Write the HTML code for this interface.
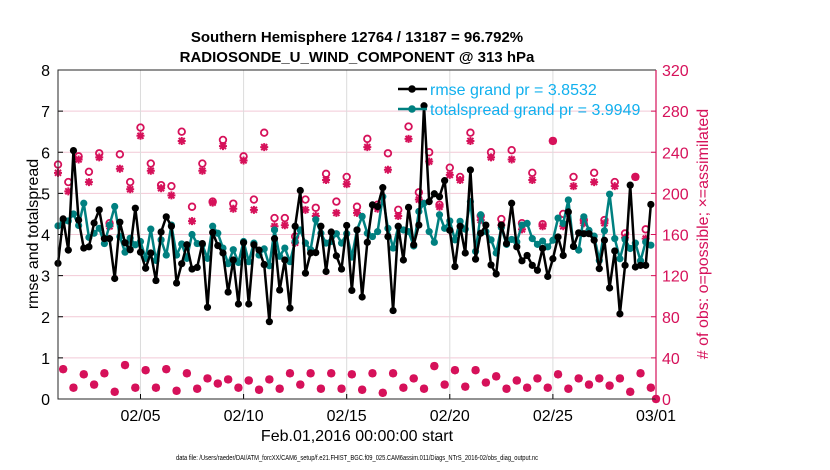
<!DOCTYPE html>
<html><head><meta charset="utf-8"><style>
body{margin:0;background:#fff;}
svg{display:block;font-family:"Liberation Sans",sans-serif;}
</style></head><body>
<svg id="chart" width="830" height="470" viewBox="0 0 830 470">
<g id="grid"></g>
<g id="obs"></g>
<g id="lines"></g>
<g id="axes"></g>
<text x="357" y="42" text-anchor="middle" font-size="15" font-weight="bold">Southern Hemisphere 12764 / 13187 = 96.792%</text>
<text x="357" y="62" text-anchor="middle" font-size="15" font-weight="bold">RADIOSONDE_U_WIND_COMPONENT @ 313 hPa</text>
<text transform="translate(38,234) rotate(-90)" text-anchor="middle" font-size="16">rmse and totalspread</text>
<text transform="translate(708,234) rotate(-90)" text-anchor="middle" font-size="16" fill="#d6115a"># of obs: o=possible; ×=assimilated</text>
<text x="357" y="441" text-anchor="middle" font-size="16">Feb.01,2016 00:00:00 start</text>
<text x="357" y="460" text-anchor="middle" font-size="7" textLength="362" lengthAdjust="spacingAndGlyphs">data file: /Users/raeder/DAI/ATM_forcXX/CAM6_setup/f.e21.FHIST_BGC.f09_025.CAM6assim.011/Diags_NTrS_2016-02/obs_diag_output.nc</text>
<g>
<line x1="398" y1="89" x2="427" y2="89" stroke="#000" stroke-width="2.5"/>
<circle cx="412" cy="89" r="3.8" fill="#000"/>
<text x="430" y="95" font-size="16" fill="#11b0ee">rmse grand pr = 3.8532</text>
<line x1="398" y1="109" x2="427" y2="109" stroke="#008080" stroke-width="2.5"/>
<circle cx="412" cy="109" r="3.8" fill="#008080"/>
<text x="430" y="115" font-size="16" fill="#11b0ee">totalspread grand pr = 3.9949</text>
</g>
</svg>
<script>
const rmse = [3.30,4.38,3.62,6.04,4.35,3.67,3.70,4.28,4.60,3.90,3.90,2.93,4.30,3.80,3.63,4.64,3.57,3.18,3.55,2.88,4.06,4.43,4.20,2.82,3.29,3.75,3.16,3.20,3.78,2.23,4.05,3.73,3.55,2.60,3.38,2.31,3.80,2.31,3.75,3.62,3.27,1.88,3.90,2.65,
3.38,2.21,4.20,5.07,3.06,3.55,3.56,4.20,3.10,4.06,3.48,3.16,4.22,2.64,4.11,2.48,3.81,4.72,4.68,5.14,3.95,2.15,4.20,3.38,4.66,3.75,4.23,7.13,4.80,4.99,4.92,5.31,4.10,3.22,4.20,3.55,5.57,3.40,4.03,4.23,3.26,3.04,
4.23,3.78,4.76,3.70,3.36,3.49,3.25,3.13,3.66,2.98,3.41,3.94,3.49,4.55,3.71,4.04,4.02,4.02,3.86,3.17,3.86,2.70,3.60,2.07,3.25,5.20,3.21,3.25,3.25,4.73];
const spread = [4.21,4.33,4.33,4.50,4.22,4.76,3.93,4.03,4.15,3.78,4.23,4.68,3.95,3.57,3.91,3.75,3.83,3.42,4.13,3.37,3.87,3.50,4.23,3.50,3.77,3.42,4.00,3.78,3.75,3.42,4.20,4.03,3.67,3.29,3.63,3.32,3.83,3.34,3.79,3.50,3.65,3.24,4.11,3.47,
3.67,3.34,3.83,4.11,3.79,3.63,4.36,4.03,3.79,3.83,4.02,3.79,4.02,3.45,4.11,4.44,4.03,3.95,4.07,4.92,4.15,3.67,4.19,4.11,4.07,3.72,4.56,4.76,4.07,3.81,4.48,4.15,4.33,3.87,4.32,4.13,4.80,3.59,4.48,4.07,3.87,3.55,
4.17,3.76,3.88,3.82,4.23,4.27,3.90,3.76,3.84,3.70,3.86,4.40,4.27,4.84,3.71,3.62,4.43,4.10,3.96,3.37,4.09,4.98,3.90,3.41,3.88,3.66,3.79,3.36,3.82,3.74];
const possible = [228,29,211,11,236,24,221,14,239,25,171,7,238,33,211,11,264,28,229,11,208,29,207,8,260,25,187,10,229,20,192,15,252,19,190,11,236,18,194,9,259,19,176,10,176,25,158,14,194,25,186,10,219,25,192,10,216,24,187,9,253,25,189,6,239,25,184,11,265,20,201,10,240,32,189,14,225,28,216,12,259,28,178,16,240,22,175,10,242,18,171,11,220,20,170,11,251,24,180,10,216,20,174,14,220,20,174,13,211,20,161,7,216,25,165,11,0];
const assimilated = [220,29,202,11,233,24,211,14,235,25,168,7,224,33,204,11,256,28,222,11,205,29,198,8,251,25,173,10,222,20,191,15,246,19,185,11,232,18,184,9,245,19,168,10,169,25,152,14,184,25,178,10,213,25,181,10,209,24,181,9,245,25,185,6,223,25,178,11,253,20,194,10,231,32,187,14,218,28,213,12,251,28,174,16,235,22,169,10,233,18,165,11,213,20,168,11,251,24,168,10,207,20,171,14,211,20,171,13,207,20,157,7,216,25,156,11,0];
const xTickDays = [4,9,14,19,24,29];
const xTickLabels = ["02/05","02/10","02/15","02/20","02/25","03/01"];
const yTicks = [0,1,2,3,4,5,6,7,8];
const yRTicks = [0,40,80,120,160,200,240,280,320];
const stepDays = 0.25;

const L=58,R=656,T=70,B=399;
const NS="http://www.w3.org/2000/svg";
const xS=d=>L+d/29*(R-L);
const yS=v=>B-v/8*(B-T);
const yR=c=>B-c/320*(B-T);
function mk(tag,attrs,parent){const e=document.createElementNS(NS,tag);for(const k in attrs)e.setAttribute(k,attrs[k]);parent.appendChild(e);return e;}
const grid=document.getElementById('grid'),axes=document.getElementById('axes'),obs=document.getElementById('obs'),lines=document.getElementById('lines');

yTicks.forEach(v=>{
  if(v>0&&v<8){const g=mk('line',{x1:L,x2:R,y1:yS(v),y2:yS(v),stroke:'#f2c9d6','stroke-width':1},grid);
  
  }
  const tk=mk('line',{x1:L,x2:L+5,y1:yS(v),y2:yS(v),stroke:'#000'},axes);
  
  
  const t=mk('text',{x:L-8,y:yS(v)+6,'text-anchor':'end','font-size':16},axes);t.textContent=v;
  
  
});
yRTicks.forEach(c=>{
  const tk=mk('line',{x1:R-5,x2:R,y1:yR(c),y2:yR(c),stroke:'#d6115a'},axes);
  
  
  const t=mk('text',{x:R+6,y:yR(c)+6,'font-size':16,fill:'#d6115a'},axes);t.textContent=c;
  
  
});
xTickDays.forEach((d,i)=>{
  if(d<29){const g=mk('line',{x1:xS(d),x2:xS(d),y1:T,y2:B,stroke:'#dcdcdc','stroke-width':1},grid);
  
  }
  const tk=mk('line',{x1:xS(d),x2:xS(d),y1:B,y2:B-5,stroke:'#000'},axes);
  
  
  const t=mk('text',{x:xS(d),y:B+22,'text-anchor':'middle','font-size':16},axes);t.textContent=xTickLabels[i];
  
  
});
const ax1=mk('path',{d:`M${R},${T}H${L}V${B}H${R}`,fill:'none',stroke:'#262626','stroke-width':1},axes);


const ax2=mk('line',{x1:R,x2:R,y1:T,y2:B,stroke:'#d6115a','stroke-width':1.2},axes);



// obs markers
possible.forEach((c,i)=>{
  const x=xS(i*stepDays);
  const cy=yR(c);
  const ci=mk('circle',{cx:x,cy:cy,r:3.3,fill:'none',stroke:'#d6115a','stroke-width':1.8},obs);
  
  
  const ay=yR(assimilated[i]);
  const s=4;
  const st=mk('path',{d:`M${x-s},${ay}H${x+s}M${x},${ay-s}V${ay+s}M${x-s*0.75},${ay-s*0.75}L${x+s*0.75},${ay+s*0.75}M${x-s*0.75},${ay+s*0.75}L${x+s*0.75},${ay-s*0.75}`,stroke:'#d6115a','stroke-width':2,fill:'none'},obs);
  
  
});

function series(arr,color,name){
  const pts=arr.map((v,i)=>[xS(i*stepDays),yS(v)]);
  const pl=mk('polyline',{points:pts.map(p=>p.join(',')).join(' '),fill:'none',stroke:color,'stroke-width':2.5,'stroke-linejoin':'round'},lines);
  
  
  pts.forEach(p=>{
    const c=mk('circle',{cx:p[0],cy:p[1],r:3.6,fill:color},lines);
    
    
  });
}
series(spread,'#008080','totalspread');
series(rmse,'#000000','rmse');
</script>
</body></html>
